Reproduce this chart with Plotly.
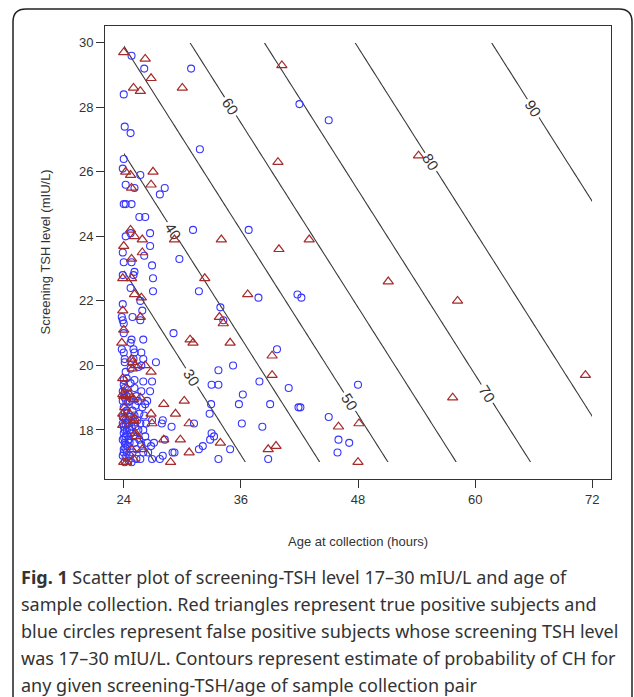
import numpy as np
import plotly.graph_objects as go

# ---- data ----
# true positive subjects (red triangles): age at collection (h), screening TSH (mIU/L)
red_age = [24.0, 26.2, 26.8, 30.0, 25.0, 25.7, 40.2, 24.2, 24.7, 27.0, 26.8, 24.8, 39.8, 54.2,
           24.7, 25.1, 25.9, 29.2, 24.0, 25.9, 24.8, 34.0, 39.9, 43.0, 23.9, 24.8, 32.3, 25.1,
           25.8, 36.7, 51.1, 58.2, 23.9, 25.7, 24.0, 33.8, 34.2, 30.8, 31.1, 23.8, 34.9, 39.2,
           24.8, 24.9, 25.2, 26.2, 71.3, 57.7, 39.2, 46.0, 48.1, 48.0, 30.2, 29.3, 30.7, 29.8,
           33.9, 30.7, 38.8, 39.6, 28.1, 26.8, 26.9, 28.1, 28.8, 26.8, 23.9, 24.3, 23.9, 24.6,
           24.8, 25.0, 25.7, 24.1, 23.9, 24.6, 24.1, 23.9, 25.0, 25.1, 24.0, 25.0, 24.8, 25.9,
           25.2, 25.3, 24.3, 24.9, 24.0, 25.0]
red_tsh = [29.7, 29.5, 28.9, 28.6, 28.6, 28.5, 29.3, 26.0, 25.9, 26.0, 25.6, 25.5, 26.3, 26.5,
           24.2, 24.0, 23.9, 23.9, 23.7, 23.5, 23.3, 23.9, 23.6, 23.9, 22.7, 22.7, 22.7, 22.2,
           22.1, 22.2, 22.6, 22.0, 21.7, 21.5, 21.1, 21.5, 21.3, 20.8, 20.7, 20.7, 20.7, 20.3,
           20.2, 20.1, 20.0, 20.0, 19.7, 19.0, 19.7, 18.1, 18.2, 17.0, 18.9, 18.5, 18.2, 17.7,
           17.6, 17.3, 17.4, 17.5, 18.8, 18.5, 18.2, 17.7, 17.0, 19.8, 19.6, 19.3, 19.1, 19.1,
           19.0, 18.95, 19.0, 18.7, 18.5, 18.5, 18.4, 18.15, 18.3, 18.35, 17.0, 17.1, 17.4, 17.4,
           17.9, 17.8, 17.0, 19.9, 19.05, 18.2]

# false positive subjects (blue circles)
blue_age = [24.8, 26.1, 30.9, 24.0, 24.1, 24.7, 31.8, 42.0, 45.0,
            24.0, 23.9, 25.7, 24.2, 25.1, 28.2, 27.7, 24.0, 24.2, 24.8,
            25.6, 26.2, 31.1, 36.8, 24.7, 24.2, 26.7, 26.7, 23.9, 26.1, 24.0, 24.8, 26.9, 29.7,
            23.9, 25.0, 25.1, 27.0, 24.7, 27.0, 31.7, 25.7, 23.9, 25.9, 23.8, 23.9, 24.9, 25.7,
            24.0, 24.0, 29.1, 33.9, 34.2, 37.8, 41.8, 42.2,
            24.8, 26.0, 24.7, 23.8, 25.0, 24.0, 25.1, 25.8, 24.1, 25.0, 26.0, 24.1, 27.3, 25.8,
            39.7, 35.2, 33.7, 48.0, 42.1, 41.9, 45.0, 46.0, 47.1, 45.9,
            37.9, 40.9, 33.0, 33.7, 36.2, 35.8, 39.0, 32.95, 32.8, 36.1, 38.2, 31.2, 33.0, 33.25,
            32.85, 32.1, 31.7, 34.9, 33.7, 38.8, 29.2,
            28.0, 27.9, 28.9, 28.2, 26.8, 27.1, 26.9, 27.7, 28.0, 29.0,
            24.2, 24.7, 25.5, 24.0, 25.1, 26.0, 26.9, 24.7,
            24.1, 25.1, 26.7, 25.8, 24.1, 24.3, 25.3, 25.45, 24.5, 23.9, 24.0,
            24.6, 25.2, 25.9, 26.4, 25.6, 26.1, 24.0, 24.3, 24.9, 23.9, 26.2,
            23.9, 24.2, 24.4, 24.6, 25.1, 25.4, 25.7, 26.3, 24.0, 24.8, 25.5, 26.0, 26.9, 24.3, 23.9,
            24.0, 24.2, 24.5, 24.1, 24.7, 25.1, 25.6, 26.2, 23.9, 24.4, 25.0, 24.6, 26.4, 25.8, 24.2,
            24.0, 24.3, 23.9, 24.6, 24.9, 25.3, 24.1, 24.5, 25.7, 26.0, 26.5, 24.8, 25.3,
            24.1, 24.4, 24.0, 24.2, 24.6, 25.2, 24.3, 24.1, 24.2, 24.05, 24.35, 24.15, 24.45,
            24.25, 24.1]
blue_tsh = [29.6, 29.2, 29.2, 28.4, 27.4, 27.2, 26.7, 28.1, 27.6,
            26.4, 26.1, 25.9, 25.6, 25.5, 25.5, 25.3, 25.0, 25.0, 25.0,
            24.6, 24.6, 24.2, 24.2, 24.1, 24.0, 24.1, 23.7, 23.5, 23.4, 23.2, 23.2, 23.1, 23.3,
            22.8, 22.8, 22.9, 22.7, 22.4, 22.3, 22.3, 22.0, 21.9, 21.7, 21.5, 21.4, 21.5, 21.4,
            21.3, 21.0, 21.0, 21.8, 21.4, 22.1, 22.2, 22.1,
            20.8, 20.8, 20.7, 20.5, 20.5, 20.4, 20.4, 20.4, 20.2, 20.2, 20.2, 20.1, 20.1, 20.0,
            20.5, 20.0, 19.85, 19.4, 18.7, 18.7, 18.4, 17.7, 17.6, 17.3,
            19.5, 19.3, 19.4, 19.4, 19.1, 18.8, 18.8, 18.8, 18.5, 18.2, 18.1, 18.2, 17.9, 17.8,
            17.7, 17.5, 17.4, 17.4, 17.1, 17.1, 17.3,
            18.3, 18.2, 18.1, 17.7, 17.5, 17.6, 17.1, 17.1, 17.2, 17.3,
            19.8, 19.9, 19.95, 19.55, 19.55, 19.5, 19.5, 19.45,
            19.3, 19.3, 19.2, 19.2, 19.0, 19.05, 19.05, 18.9, 19.1, 19.2, 19.4,
            18.9, 18.75, 18.7, 18.9, 18.5, 18.45, 18.7, 18.6, 18.6, 18.9, 18.8,
            18.4, 18.3, 18.2, 18.4, 18.45, 18.3, 18.2, 18.2, 18.1, 18.1, 18.0, 18.0, 18.3, 18.0, 18.2,
            17.9, 17.8, 17.7, 17.6, 17.9, 17.6, 17.7, 17.8, 17.7, 17.5, 17.8, 17.6, 17.6, 17.55, 17.55,
            17.4, 17.3, 17.2, 17.2, 17.3, 17.1, 17.0, 17.05, 17.1, 17.3, 17.3, 17.0, 17.4,
            18.55, 18.85, 17.3, 17.15, 18.0, 18.1, 19.6, 18.0, 18.15, 17.75, 17.85, 17.45, 18.3,
            18.9, 19.15]

# estimated logistic model for probability of CH (coefficients read from contour geometry)
model_intercept = -5.0315
model_coef_age = 0.058
model_coef_tsh = 0.1217
contour_levels = dict(start=20, end=90, size=10)   # percent

x_ticks = [24, 36, 48, 60, 72]
y_ticks = [18, 20, 22, 24, 26, 28, 30]

caption_lines = [
    "<b>Fig. 1</b> Scatter plot of screening-TSH level 17–30 mIU/L and age of",
    "sample collection. Red triangles represent true positive subjects and",
    "blue circles represent false positive subjects whose screening TSH level",
    "was 17–30 mIU/L. Contours represent estimate of probability of CH for",
    "any given screening-TSH/age of sample collection pair",
]

# ---- figure ----
age_grid = np.linspace(24, 72, 97)
tsh_grid = np.linspace(17, 30, 53)
A, T = np.meshgrid(age_grid, tsh_grid)
Z = 100.0 / (1.0 + np.exp(-(model_intercept + model_coef_age * A + model_coef_tsh * T)))

fig = go.Figure()
fig.add_trace(go.Contour(
    x=age_grid, y=tsh_grid, z=Z,
    contours=dict(coloring="lines", showlabels=True,
                  labelfont=dict(size=15, color="#333333", family="Liberation Sans, Arial"),
                  **contour_levels),
    colorscale=[[0, "#3a3a3a"], [1, "#3a3a3a"]],
    line=dict(width=1.1),
    showscale=False, hoverinfo="skip",
))
fig.add_trace(go.Scatter(
    x=blue_age, y=blue_tsh, mode="markers",
    marker=dict(symbol="circle-open", size=7, color="#3535ff", line=dict(width=1.1)),
    name="False positive",
))
fig.add_trace(go.Scatter(
    x=red_age, y=red_tsh, mode="markers",
    marker=dict(symbol="triangle-up-open", size=9, color="#a52a2a", line=dict(width=1.2)),
    name="True positive",
))

L, R, T_, B = 105, 23, 26, 218
W, H = 634, 697
pw, ph = W - L - R, H - T_ - B


def px(xp):
    return (xp - L) / pw


def py(yp):
    return (H - B - yp) / ph


axis_common = dict(showgrid=False, zeroline=False, showline=True, linecolor="#333333",
                   linewidth=1, mirror=True, ticks="outside", ticklen=8, tickwidth=1,
                   tickcolor="#333333", tickfont=dict(size=13, color="#333333"))
fig.update_xaxes(range=[22.08, 73.92], tickvals=x_ticks, **axis_common)
fig.update_yaxes(range=[16.48, 30.52], tickvals=y_ticks, **axis_common)

annotations = [
    dict(text="Age at collection (hours)", x=0.5, y=py(541), xref="paper", yref="paper",
         showarrow=False, font=dict(size=13, color="#333333"), xanchor="center", yanchor="middle"),
    dict(text="Screening TSH level (mIU/L)", x=px(45), y=0.5, xref="paper", yref="paper",
         showarrow=False, textangle=-90, font=dict(size=13, color="#333333"),
         xanchor="center", yanchor="middle"),
]
cap_y = [577, 604, 631, 658, 685]
for txt, yy in zip(caption_lines, cap_y):
    annotations.append(dict(text=txt, x=px(19), y=py(yy), xref="paper", yref="paper",
                            showarrow=False, xanchor="left", yanchor="middle",
                            font=dict(size=18, color="#333333",
                                      family="Noto Sans, Open Sans, Liberation Sans")))

frame = (f"M {px(13)},{py(700)} L {px(13)},{py(22)} Q {px(13)},{py(9)} {px(26)},{py(9)} "
         f"L {px(619)},{py(9)} Q {px(632)},{py(9)} {px(632)},{py(22)} L {px(632)},{py(700)}")

fig.update_layout(
    width=W, height=H, margin=dict(l=L, r=R, t=T_, b=B),
    paper_bgcolor="white", plot_bgcolor="white", showlegend=False,
    font=dict(family="Liberation Sans, Arial", size=13, color="#333333"),
    annotations=annotations,
    shapes=[dict(type="path", path=frame, xref="paper", yref="paper",
                 line=dict(color="#222222", width=1.5))],
)

fig.write_html("out.html", config={"displayModeBar": False},
               post_script="document.body.style.margin='0px';")
